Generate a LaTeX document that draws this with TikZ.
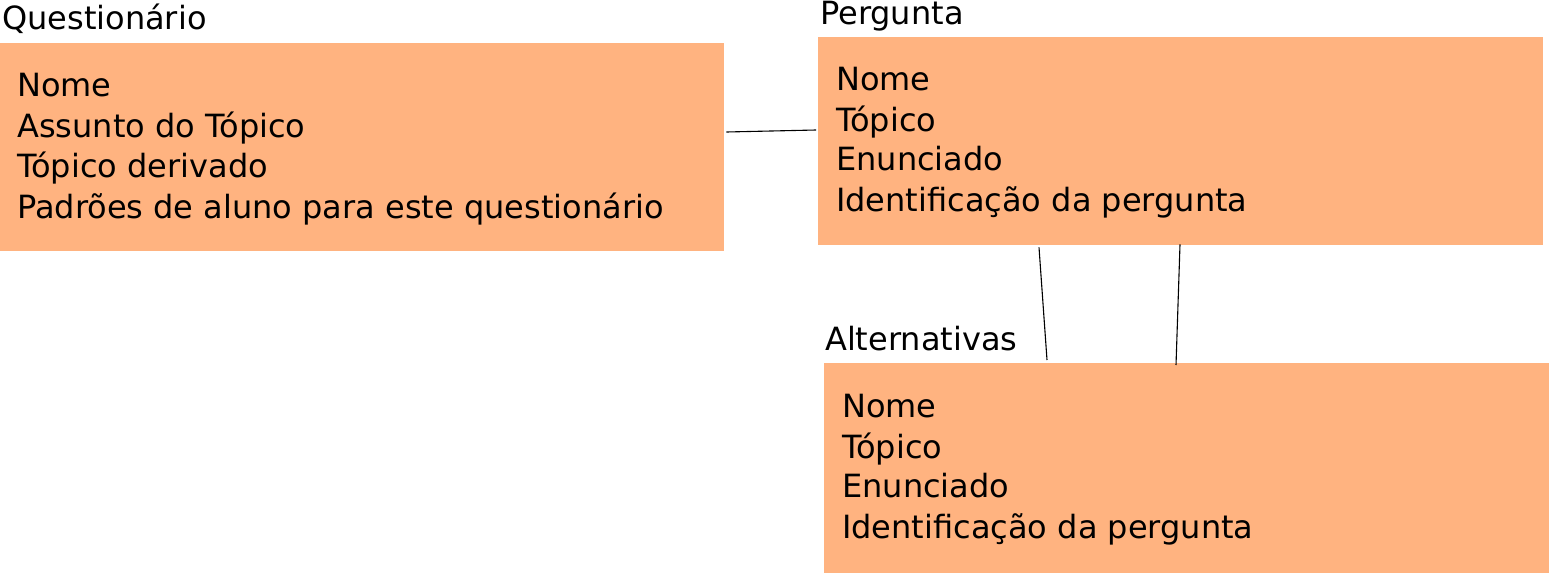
\documentclass[tikz,border=0pt]{standalone}
\usepackage{fontspec}
\setmainfont{DejaVu Sans}
\usetikzlibrary{calc}
\definecolor{boxfill}{HTML}{FFB380}
\tikzset{
  entity/.style={fill=boxfill, draw=none, inner sep=0pt, anchor=north west},
  title/.style={anchor=base west, inner sep=0pt, font=\fontsize{32}{38}\selectfont},
  attr/.style={anchor=base west, inner sep=0pt, font=\fontsize{32}{38}\selectfont},
  link/.style={draw=black, line width=1.1pt}
}
\begin{document}
\begin{tikzpicture}[x=1pt,y=-1pt]
\useasboundingbox (0,0) rectangle (1549,573);
% boxes
\node[entity, minimum width=724pt, minimum height=208pt] (q) at (0,43) {};
\node[entity, minimum width=725pt, minimum height=208pt] (p) at (818,37) {};
\node[entity, minimum width=725pt, minimum height=210pt] (a) at (824,363) {};
% titles
\node[title] (qt) at (2,29) {Questionário};
\node[title] (pt) at (820,24) {Pergunta};
\node[title] (at) at (825,350) {Alternativas};
% attributes
\node[attr] (q1) at (17,96) {Nome};
\node[attr] (q2) at (17,137) {Assunto do Tópico};
\node[attr] (q3) at (17,177) {Tópico derivado};
\node[attr] (q4) at (17,218) {Padrões de aluno para este questionário};
\node[attr] (p1) at (836,90) {Nome};
\node[attr] (p2) at (836,131) {Tópico};
\node[attr] (p3) at (836,170) {Enunciado};
\node[attr] (p4) at (836,211) {Identificação da pergunta};
\node[attr] (a1) at (842,417) {Nome};
\node[attr] (a2) at (842,458) {Tópico};
\node[attr] (a3) at (842,497) {Enunciado};
\node[attr] (a4) at (842,538) {Identificação da pergunta};
% connector ends
\coordinate (qe) at ($(q.north east)+(2,89)$);
\coordinate (pw) at ($(p.north west)+(-2,93)$);
\coordinate (ps1) at ($(p.south west)+(221,2)$);
\coordinate (an1) at ($(a.north west)+(223,-3)$);
\coordinate (ps2) at ($(p.south west)+(362,-1)$);
\coordinate (an2) at ($(a.north west)+(352,2)$);
\draw[link] (qe) -- (pw);
\draw[link] (ps1) -- (an1);
\draw[link] (ps2) -- (an2);
\end{tikzpicture}
\end{document}
